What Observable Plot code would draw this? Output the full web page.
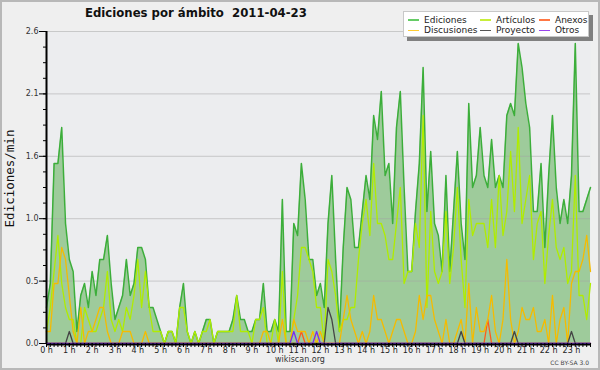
<!DOCTYPE html>
<html><head><meta charset="utf-8">
<script src="https://cdn.jsdelivr.net/npm/d3@7"></script>
<script src="https://cdn.jsdelivr.net/npm/@observablehq/plot@0.6"></script>
<style>
html,body{margin:0;padding:0;background:#efefef;}
#wrap{position:relative;width:600px;height:370px;background:#efefef;overflow:hidden;font-family:"DejaVu Sans",sans-serif;}
#wrap svg{position:absolute;left:0;top:0;}
#border{position:absolute;left:0;top:0;width:600px;height:370px;box-sizing:border-box;border:2px solid #b8b8b8;pointer-events:none;}
.t{position:absolute;white-space:pre;line-height:1;}
#legend{position:absolute;left:403px;top:11px;width:186px;height:26px;box-sizing:border-box;background:#fff;border:1px solid #c8c8c8;box-shadow:4px 4px 0 #808080;}
.ls{position:absolute;height:1.5px;width:11px;}
.lt{position:absolute;white-space:pre;line-height:1;font-size:9px;color:#222;font-family:"DejaVu Sans",sans-serif;}
</style></head><body>
<div id="wrap">
  <div class="t" id="title" style="left:85px;top:8px;font-weight:bold;font-size:11.7px;color:#111;">Ediciones por ámbito  2011-04-23</div>
  <div id="legend"></div>
  <div class="t" style="left:0;width:600px;text-align:center;top:356px;font-size:8px;color:#333;">wikiscan.org</div>
  <div class="t" style="right:11px;top:360px;font-size:6px;color:#444;">CC BY-SA 3.0</div>
  <div id="border"></div>
</div>
<script>
// Ediciones por minuto, bins of 10 minutes (144 bins, 0 h .. 23 h 50)
const ediciones = [
 0.3,0.5,1.5,1.5,1.8,1.0,0.7,0.6,0.1,0.4,0.5,0.3,
 0.6,0.4,0.7,0.7,0.9,0.5,0.2,0.3,0.4,0.7,0.4,0.5,
 0.8,0.8,0.7,0.3,0.3,0.2,0.1,0.0,0.1,0.1,0.0,0.3,
 0.5,0.1,0.0,0.1,0.0,0.1,0.2,0.2,0.0,0.1,0.1,0.1,
 0.1,0.2,0.4,0.2,0.2,0.1,0.1,0.2,0.2,0.5,0.1,0.1,
 0.2,0.1,1.2,0.1,0.1,1.0,0.9,1.5,1.2,0.7,0.7,0.4,
 0.5,0.3,1.0,1.4,0.7,0.1,0.8,1.3,1.2,0.8,0.8,1.1,
 1.4,1.2,1.9,1.7,2.1,1.4,1.5,1.0,1.8,2.1,1.3,0.6,
 0.6,1.1,1.5,2.3,1.1,1.6,1.0,0.9,0.6,1.4,0.6,1.1,
 1.6,1.0,0.7,2.0,1.3,1.4,1.8,1.4,1.3,1.7,1.3,1.4,
 1.3,1.9,2.0,1.9,2.5,2.3,2.0,1.8,1.1,1.1,1.5,0.8,
 1.4,1.9,1.3,1.0,1.2,1.0,1.4,2.5,1.1,1.1,1.2,1.3];
const articulos = [
 0.1,0.3,0.6,0.9,0.5,0.3,0.2,0.2,0.0,0.0,0.3,0.2,
 0.1,0.1,0.2,0.3,0.6,0.2,0.1,0.2,0.1,0.3,0.2,0.4,
 0.7,0.3,0.6,0.3,0.1,0.1,0.1,0.0,0.1,0.1,0.0,0.3,
 0.3,0.1,0.0,0.1,0.0,0.1,0.1,0.2,0.0,0.1,0.1,0.1,
 0.1,0.1,0.4,0.1,0.1,0.1,0.0,0.2,0.2,0.3,0.0,0.0,
 0.2,0.0,0.6,0.0,0.0,0.2,0.4,0.8,0.8,0.7,0.6,0.3,
 0.3,0.0,0.7,0.6,0.4,0.1,0.2,0.2,0.3,0.3,0.7,1.0,
 1.2,0.9,1.5,1.0,1.0,0.9,0.7,0.7,1.0,1.3,0.5,0.6,
 0.6,1.0,0.8,1.9,0.3,1.1,0.6,0.5,0.6,1.1,0.5,0.8,
 1.3,0.7,0.3,1.2,0.9,1.0,1.0,1.0,0.8,1.2,0.8,1.4,
 0.9,1.1,1.6,1.1,1.8,1.0,1.2,1.4,0.7,1.0,1.1,0.5,
 0.9,1.2,0.8,0.7,0.8,0.5,0.6,1.4,0.4,0.4,0.2,0.5];
const anexos = [
 0,0,0,0,0,0,0,0,0,0,0,0,
 0,0,0,0,0,0,0,0,0,0,0,0,
 0,0,0,0,0,0,0,0,0,0,0,0,
 0,0,0,0,0,0,0,0,0,0,0,0,
 0,0,0,0,0,0,0,0,0,0,0,0,
 0,0,0,0,0,0,0,0.1,0,0,0,0,
 0,0,0,0,0,0,0,0,0,0,0,0,
 0,0,0,0,0,0,0,0,0,0,0,0,
 0,0,0,0,0,0,0,0,0,0,0,0,
 0,0,0,0,0,0,0,0,0.2,0,0,0,
 0,0,0,0,0,0,0,0,0,0,0,0,
 0,0,0,0,0,0,0,0,0,0,0,0];
const discusiones = [
 0.1,0.1,0.5,0.5,0.8,0.7,0.4,0.1,0.0,0.3,0.0,0.1,
 0.1,0.2,0.3,0.3,0.1,0.0,0.0,0.0,0.1,0.1,0.1,0.0,
 0.0,0.0,0.1,0.0,0.0,0.0,0.0,0.0,0.0,0.0,0.0,0.0,
 0.0,0.0,0.0,0.0,0.0,0.0,0.0,0.0,0.0,0.0,0.0,0.0,
 0.0,0.0,0.0,0.0,0.0,0.0,0.0,0.0,0.0,0.1,0.1,0.0,
 0.0,0.0,0.2,0.0,0.0,0.2,0.1,0.1,0.1,0.0,0.1,0.0,
 0.1,0.0,0.0,0.0,0.0,0.0,0.2,0.4,0.2,0.1,0.0,0.1,
 0.0,0.1,0.4,0.2,0.2,0.1,0.0,0.1,0.2,0.2,0.1,0.0,
 0.0,0.1,0.4,0.2,0.4,0.4,0.2,0.1,0.0,0.2,0.0,0.0,
 0.1,0.2,0.0,0.5,0.0,0.3,0.1,0.1,0.2,0.4,0.1,0.0,
 0.2,0.7,0.2,0.0,0.1,0.3,0.2,0.2,0.3,0.1,0.1,0.2,
 0.0,0.4,0.0,0.2,0.3,0.0,0.5,0.6,0.6,0.7,0.9,0.6];
const proyecto = [
 0,0,0,0,0,0,0.1,0,0,0,0,0,
 0,0,0,0,0,0,0,0,0,0,0,0,
 0,0,0,0,0,0,0,0,0,0,0,0,
 0,0,0,0,0,0,0,0,0,0,0,0,
 0,0,0,0,0,0,0,0,0,0,0,0,
 0,0,0,0,0,0,0,0,0,0,0,0,
 0,0,0.3,0.2,0,0,0,0,0,0,0,0,
 0,0,0,0,0,0,0,0,0,0,0,0,
 0,0,0,0,0,0,0,0,0,0,0,0,
 0,0.1,0,0,0,0,0,0,0,0,0,0,
 0,0,0,0.1,0,0,0,0,0,0,0,0,
 0,0,0,0,0,0,0.1,0,0,0,0,0];
const otros = [
 0,0,0,0,0,0,0,0,0,0,0,0,
 0,0,0,0,0,0,0,0,0,0,0,0,
 0,0,0,0,0,0,0,0,0,0,0,0,
 0,0,0,0,0,0,0,0,0,0,0,0,
 0,0,0,0,0,0,0,0,0,0,0,0,
 0,0,0,0,0,0.1,0,0,0,0,0,0.1,
 0,0,0,0,0,0,0,0,0,0,0,0,
 0,0,0,0,0,0,0,0,0,0,0,0,
 0,0,0,0,0,0,0,0,0,0,0,0,
 0,0,0,0,0,0,0,0,0,0,0,0,
 0,0,0,0,0,0,0,0,0,0,0,0,
 0,0,0,0,0,0,0,0,0,0,0,0];

const hours = [0,1,2,3,4,5,6,7,8,9,10,11,12,13,14,15,16,17,18,19,20,21,22,23];
const xTickLabels = ["0 h","1 h","2 h","3 h","4 h","5 h","6 h","7 h","8 h","9 h","10 h","11 h",
  "12 h","13 h","14 h","15 h","16 h","17 h","18 h","19 h","20 h","21 h","22 h","23 h"];
const yTickValues = [0, 0.52, 1.04, 1.56, 2.08, 2.6];
const yTickLabels = ["0.0","0.5","1.0","1.6","2.1","2.6"];

const seriesNames = ["Ediciones","Artículos","Anexos","Discusiones","Proyecto","Otros"];
const lineColors = ["#3cae3a","#b0ec00","#ff5a1a","#f5bb00","#444444","#7a2cf0"];
const legendColors = ["#66cc66","#c8ee3a","#ff7744","#ffcc33","#555555","#9944ee"];

const table = ediciones.map((v, i) => ({
  t: i / 6, ediciones: v, articulos: articulos[i], anexos: anexos[i],
  discusiones: discusiones[i], proyecto: proyecto[i], otros: otros[i]
}));
const keys = ["ediciones","articulos","anexos","discusiones","proyecto","otros"];

const minorX = table.map(d => d.t);
const minorY = d3.range(0, 21).map(k => k * 0.13);

const chart = Plot.plot({
  width: 600, height: 370,
  marginLeft: 46, marginRight: 10, marginTop: 31, marginBottom: 27,
  x: {domain: [0, (ediciones.length - 1) / 6], axis: null},
  y: {domain: [0, 2.6], axis: null},
  style: {background: "transparent", fontFamily: "DejaVu Sans", fontSize: "8px", color: "#333", overflow: "visible"},
  marks: [
    Plot.frame({fill: "#ecedef", stroke: "none"}),
    Plot.areaY(table, {x: "t", y: "ediciones", fill: "#9ecb9b"}),
    Plot.gridY(yTickValues, {stroke: "#a4a4a4", strokeOpacity: 0.5}),
    ...keys.map((k, j) => Plot.lineY(table, {x: "t", y: k, stroke: lineColors[j], strokeWidth: j === 0 ? 1.5 : 1.3})),
    Plot.ruleY([0], {stroke: "#000", strokeWidth: 2, dy: 1}),
    Plot.ruleX([0], {stroke: "#000", strokeWidth: 2}),
    Plot.axisY(minorY, {anchor: "left", tickSize: 3, tickFormat: () => "", stroke: "#000", label: null}),
    Plot.axisY(yTickValues, {anchor: "left", tickSize: 7, tickPadding: 1, stroke: "#000", fill: "#333", fontSize: 8,
      tickFormat: d => yTickLabels[yTickValues.indexOf(d)], label: null}),
    Plot.axisX(minorX, {anchor: "bottom", tickSize: 4, tickFormat: () => "", stroke: "#000", label: null}),
    Plot.axisX(hours, {anchor: "bottom", tickSize: 4, tickPadding: 0, stroke: "#000", fill: "#222", fontSize: 8,
      tickFormat: d => xTickLabels[d], label: null}),
    Plot.text(["Ediciones/min"], {frameAnchor: "left", dx: -37, dy: -9, rotate: -90, text: d => d,
      fontFamily: "DejaVu Sans Mono", fontSize: 12.5, fill: "#111", textAnchor: "middle", lineAnchor: "middle"})
  ]
});
const wrap = document.getElementById("wrap");
wrap.insertBefore(chart, wrap.firstChild);

// legend
const legend = document.getElementById("legend");
const cols = [[408, 424], [480, 496], [539, 555]];
const rows = [[19, 15.9], [29.5, 26.4]];
seriesNames.forEach((name, j) => {
  const c = cols[j % 3], r = rows[Math.floor(j / 3)];
  const s = document.createElement("div");
  s.className = "ls";
  s.style.left = (c[0] - 403 - 1) + "px"; s.style.top = (r[0] - 11 - 1) + "px";
  s.style.background = legendColors[j];
  legend.appendChild(s);
  const t = document.createElement("div");
  t.className = "lt";
  t.style.left = (c[1] - 403 - 1) + "px"; t.style.top = (r[1] - 11 - 1) + "px";
  t.textContent = name;
  legend.appendChild(t);
});
</script>
</body></html>
